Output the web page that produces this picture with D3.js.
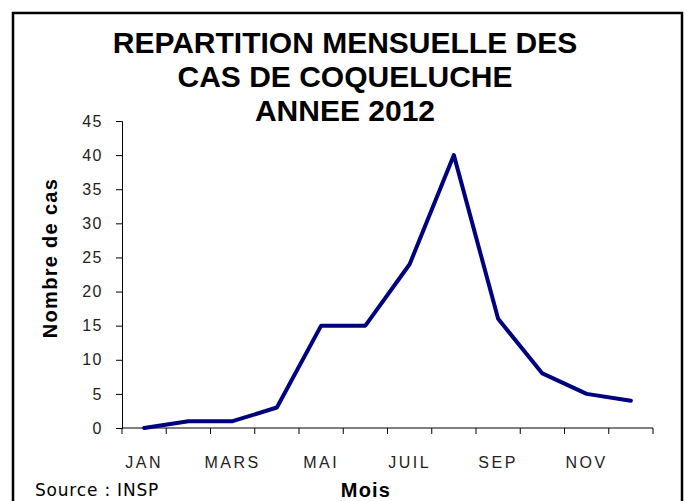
<!DOCTYPE html>
<html>
<head>
<meta charset="utf-8">
<script src="https://cdn.jsdelivr.net/npm/d3@7"></script>
<style>
  body { margin: 0; background: #fff; }
  svg { display: block; }
</style>
</head>
<body>
<svg id="chart"></svg>
<script>
const months = ["JAN", "FEV", "MARS", "AVR", "MAI", "JUIN", "JUIL", "AOUT", "SEP", "OCT", "NOV", "DEC"];
const cases = [0, 1, 1, 3, 15, 15, 24, 40, 16, 8, 5, 4];
const shownLabels = ["JAN", "MARS", "MAI", "JUIL", "SEP", "NOV"];
const yTicks = [0, 5, 10, 15, 20, 25, 30, 35, 40, 45];
const titleLines = ["REPARTITION MENSUELLE DES", "CAS DE COQUELUCHE", "ANNEE 2012"];

const w = 687;
const h = 501;
const pLeft = 122, pRight = 653, pTop = 121, pBottom = 428;
const font = "Liberation Sans, Arial, sans-serif";

const svg = d3.select("#chart")
  .attr("width", w)
  .attr("height", h);

// outer frame (runs off the bottom of the picture)
svg.append("rect")
  .attr("x", 13).attr("y", 13)
  .attr("width", 669).attr("height", 510)
  .attr("fill", "none")
  .attr("stroke", "#000")
  .attr("stroke-width", 2.5);

const x = d3.scaleBand()
  .domain(months)
  .range([pLeft, pRight]);

const y = d3.scaleLinear()
  .domain([0, 45])
  .range([pBottom, pTop]);

// title
svg.append("g")
  .selectAll("text")
  .data(titleLines)
  .enter()
  .append("text")
  .attr("x", 345)
  .attr("y", (d, i) => 53 + i * 34)
  .attr("text-anchor", "middle")
  .attr("font-family", font)
  .attr("font-weight", "bold")
  .attr("font-size", 30)
  .text((d) => d);

// y axis
const yAxis = d3.axisLeft(y)
  .tickValues(yTicks)
  .tickSize(6)
  .tickPadding(13);
const gy = svg.append("g")
  .attr("transform", "translate(" + pLeft + ",0)")
  .call(yAxis);
gy.select(".domain").attr("stroke", "#000");
gy.selectAll(".tick line").attr("stroke", "#000");
gy.selectAll(".tick text")
  .attr("font-family", font)
  .attr("font-size", 16)
  .attr("letter-spacing", 1.5)
  .attr("fill", "#222");

// x axis: ticks at band edges
const edges = months.map((m) => x(m)).concat([pRight]);
const xg = svg.append("g");
xg.append("line")
  .attr("x1", pLeft).attr("x2", pRight)
  .attr("y1", pBottom).attr("y2", pBottom)
  .attr("stroke", "#000");
xg.selectAll("line.tk")
  .data(edges)
  .enter()
  .append("line")
  .attr("class", "tk")
  .attr("x1", (d) => d).attr("x2", (d) => d)
  .attr("y1", pBottom).attr("y2", pBottom + 6)
  .attr("stroke", "#000");
xg.selectAll("text")
  .data(shownLabels)
  .enter()
  .append("text")
  .attr("x", (d) => x(d) + x.bandwidth() / 2)
  .attr("y", pBottom + 40)
  .attr("text-anchor", "middle")
  .attr("font-family", font)
  .attr("font-size", 16)
  .attr("letter-spacing", 2.5)
  .attr("fill", "#222")
  .text((d) => d);

// line
const line = d3.line()
  .x((d, i) => x(months[i]) + x.bandwidth() / 2)
  .y((d) => y(d));

svg.append("path")
  .datum(cases)
  .attr("d", line)
  .attr("fill", "none")
  .attr("stroke", "#00007f")
  .attr("stroke-width", 4)
  .attr("stroke-linejoin", "round")
  .attr("stroke-linecap", "round");

// axis titles
svg.append("text")
  .attr("transform", "translate(57,258) rotate(-90)")
  .attr("text-anchor", "middle")
  .attr("font-family", font)
  .attr("font-weight", "bold")
  .attr("font-size", 20)
  .attr("letter-spacing", 1.3)
  .text("Nombre de cas");

svg.append("text")
  .attr("x", 366)
  .attr("y", 497)
  .attr("text-anchor", "middle")
  .attr("font-family", font)
  .attr("font-weight", "bold")
  .attr("font-size", 20)
  .attr("letter-spacing", 1.2)
  .text("Mois");

svg.append("text")
  .attr("x", 35)
  .attr("y", 496)
  .attr("font-family", "DejaVu Sans, sans-serif")
  .attr("font-size", 17)
  .attr("letter-spacing", 0.8)
  .text("Source : INSP");
</script>
</body>
</html>
